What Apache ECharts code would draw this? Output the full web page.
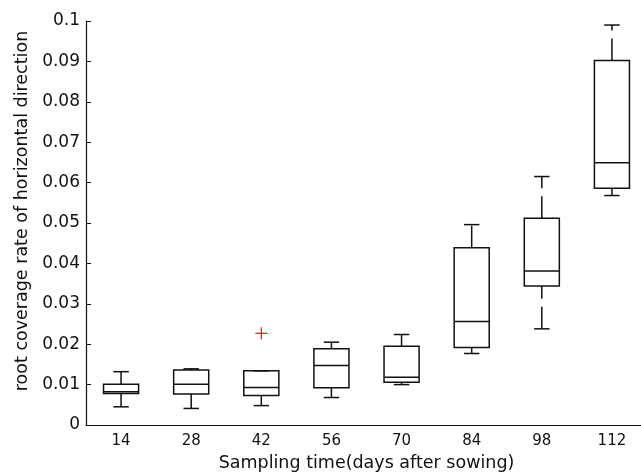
<!DOCTYPE html>
<html>
<head>
<meta charset="utf-8">
<script src="https://cdn.jsdelivr.net/npm/echarts@6/dist/echarts.min.js"></script>
<style>
html, body { margin: 0; padding: 0; background: #fff; }
#main { width: 641px; height: 475px; }
</style>
</head>
<body>
<div id="main"></div>
<script>
// sampling days (x categories)
var days = ['14', '28', '42', '56', '70', '84', '98', '112'];
// box statistics
var lowerWhisker = [0.0045, 0.0041, 0.0048, 0.0068, 0.0100, 0.0177, 0.0238, 0.0568];
var q1 = [0.0078, 0.0077, 0.0073, 0.0092, 0.0106, 0.0192, 0.0344, 0.0586];
var median = [0.0082, 0.0101, 0.0093, 0.0147, 0.0118, 0.0256, 0.0381, 0.0649];
var q3 = [0.0101, 0.0136, 0.0134, 0.0189, 0.0195, 0.0439, 0.0512, 0.0902];
var upperWhisker = [0.0132, 0.0139, 0.0134, 0.0205, 0.0224, 0.0496, 0.0615, 0.0990];
// outliers (category index, value)
var outlierDay = [2];
var outlierValue = [0.0227];

var fontName = 'DejaVu Sans';
var ink = '#111';

var boxData = [];
for (var i = 0; i < days.length; i++) {
	boxData.push([i, lowerWhisker[i], q1[i], median[i], q3[i], upperWhisker[i]]);
}
var outlierData = [];
for (var j = 0; j < outlierDay.length; j++) {
	outlierData.push([outlierDay[j], outlierValue[j]]);
}

function renderBox(params, api) {
	var idx = api.value(0);
	var bw = api.size([1, 0])[0];
	var half = bw * 0.25;
	var capHalf = bw * 0.11;
	var lo = api.coord([idx, api.value(1)]);
	var p1 = api.coord([idx, api.value(2)]);
	var md = api.coord([idx, api.value(3)]);
	var p3 = api.coord([idx, api.value(4)]);
	var hi = api.coord([idx, api.value(5)]);
	var x = lo[0];
	var solid = { stroke: ink, lineWidth: 1.5, fill: null };
	var dashed = { stroke: ink, lineWidth: 1.5, lineDash: [22, 8] };
	var kids = [];
	// whiskers, drawn upward like matlab does
	if (hi[1] < p3[1] - 0.5) {
		kids.push({ type: 'line', shape: { x1: x, y1: p3[1], x2: x, y2: hi[1] }, style: dashed });
	}
	if (lo[1] > p1[1] + 0.5) {
		kids.push({ type: 'line', shape: { x1: x, y1: lo[1], x2: x, y2: p1[1] }, style: dashed });
	}
	kids.push({ type: 'line', shape: { x1: x - capHalf, y1: hi[1], x2: x + capHalf, y2: hi[1] }, style: solid });
	kids.push({ type: 'line', shape: { x1: x - capHalf, y1: lo[1], x2: x + capHalf, y2: lo[1] }, style: solid });
	kids.push({ type: 'rect', shape: { x: x - half, y: p3[1], width: half * 2, height: p1[1] - p3[1] }, style: solid });
	kids.push({ type: 'line', shape: { x1: x - half, y1: md[1], x2: x + half, y2: md[1] }, style: solid });
	return { type: 'group', children: kids };
}

function renderOutlier(params, api) {
	var p = api.coord([api.value(0), api.value(1)]);
	var s = 6;
	var st = { stroke: '#ff0000', lineWidth: 1.2 };
	return {
		type: 'group',
		children: [
			{ type: 'line', shape: { x1: p[0] - s, y1: p[1], x2: p[0] + s, y2: p[1] }, style: st },
			{ type: 'line', shape: { x1: p[0], y1: p[1] - s, x2: p[0], y2: p[1] + s }, style: st }
		]
	};
}

var chart = echarts.init(document.getElementById('main'));
var option = {
	animation: false,
	backgroundColor: '#fff',
	grid: { left: 86, right: -6, top: 21, bottom: 50, outerBoundsMode: 'none' },
	xAxis: {
		type: 'category',
		data: days,
		boundaryGap: true,
		name: 'Sampling time(days after sowing)',
		nameLocation: 'middle',
		nameGap: 29,
		nameTextStyle: { fontFamily: fontName, fontSize: 17.5, color: ink },
		axisLine: { lineStyle: { color: ink, width: 1.2 } },
		axisTick: { show: false },
		axisLabel: { margin: 9, fontFamily: fontName, fontSize: 15, color: ink },
		splitLine: { show: false }
	},
	yAxis: {
		type: 'value',
		min: 0,
		max: 0.1,
		interval: 0.01,
		name: 'root coverage rate of horizontal direction',
		nameLocation: 'middle',
		nameGap: 55,
		nameTextStyle: { fontFamily: fontName, fontSize: 17.5, color: ink, padding: [0, 0, 0, 24] },
		axisLine: { show: true, lineStyle: { color: ink, width: 1.2 } },
		axisTick: { show: true, inside: true, length: 5, lineStyle: { color: ink } },
		axisLabel: {
			margin: 6,
			fontFamily: fontName,
			fontSize: 17,
			color: ink,
			formatter: function(v) {
				return String(+v.toFixed(2));
			}
		},
		splitLine: { show: false }
	},
	series: [{
		type: 'custom',
		renderItem: renderBox,
		encode: { x: 0, y: [1, 2, 3, 4, 5] },
		data: boxData
	}, {
		type: 'custom',
		renderItem: renderOutlier,
		encode: { x: 0, y: 1 },
		data: outlierData
	}]
};
chart.setOption(option);
</script>
</body>
</html>
